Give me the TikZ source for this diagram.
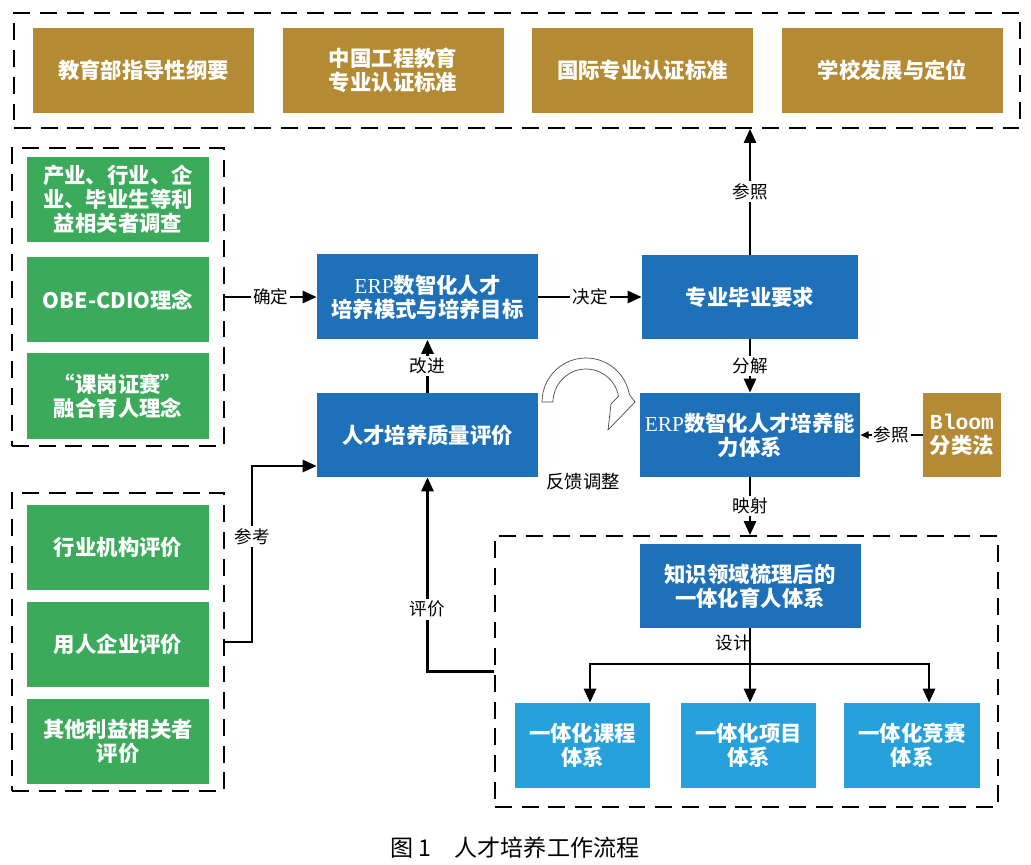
\documentclass[tikz,border=0pt]{standalone}
\usepackage{fontspec}
\setmainfont{Noto Sans CJK SC}
\newfontfamily\serifen{Liberation Serif}
\newfontfamily\monoen{Liberation Mono}
\usepackage{tikz}
\usetikzlibrary{arrows.meta}

\newcommand{\px}{0.025cm}
\definecolor{boxgold}{RGB}{180,139,52}
\definecolor{boxgreen}{RGB}{59,170,90}
\definecolor{boxblue}{RGB}{30,112,184}
\definecolor{boxcyan}{RGB}{38,161,220}

\begin{document}
\begin{tikzpicture}[x=\px,y=-\px,
        every node/.style={inner sep=0pt,align=center},
        wh/.style 2 args={minimum width=#1*\px,minimum height=#2*\px},
        box/.style={text=white,font=\fontsize{15.2}{17}\selectfont\bfseries},
        goldbox/.style={box,fill=boxgold,wh={221}{85}},
        greenbox/.style={box,fill=boxgreen,wh={182}{85}},
        bluebox/.style={box,fill=boxblue},
        cyanbox/.style={box,fill=boxcyan,wh={135}{85}},
        group/.style={draw,line width=1.2pt,dash pattern=on 12pt off 7pt},
        conn/.style={line width=2pt,-{Triangle[length=10pt,width=8.5pt]}},
        lbl/.style={fill=white,inner sep=1.5pt,font=\fontsize{12.5}{14}\selectfont}
        ]
        \useasboundingbox (0,0) rectangle (1031,865);
        % Groups
        \node[group,wh={1006}{115}] (top) at (517,70.5) {};
        \node[group,wh={212}{298}] (needs) at (118,297) {};
        \node[group,wh={212}{298}] (evals) at (118,642) {};
        \node[group,wh={503}{271}] (system) at (746.5,671.5) {};
        % Top
        \node[goldbox] (moe) at (143.5,70.5) {教育部指导性纲要};
        \node[goldbox] (cea) at (393,70.5) {中国工程教育\\专业认证标准};
        \node[goldbox] (intl) at (642.5,70.5) {国际专业认证标准};
        \node[goldbox] (school) at (892.5,70.5) {学校发展与定位};
        % Left
        \node[greenbox] (survey) at (118,199.5) {产业、行业、企\\业、毕业生等利\\益相关者调查};
        \node[greenbox] (obe) at (118,299.5) {OBE-CDIO理念};
        \node[greenbox] (ksz) at (118,396) {“课岗证赛”\\融合育人理念};
        \node[greenbox] (industry) at (118,547) {行业机构评价};
        \node[greenbox] (employer) at (118,644.5) {用人企业评价};
        \node[greenbox] (others) at (118,741) {其他利益相关者\\评价};
        % Middle
        \node[bluebox,wh={221}{85}] (erp) at (427.5,297) {{\serifen\mdseries ERP}数智化人才\\培养模式与培养目标};
        \node[bluebox,wh={221}{84}] (quality) at (427.5,435) {人才培养质量评价};
        \node[bluebox,wh={216}{84}] (grad) at (750,297) {专业毕业要求};
        \node[bluebox,wh={220}{84}] (ability) at (750,435) {{\serifen\mdseries ERP}数智化人才培养能\\力体系};
        \node[box,fill=boxgold,wh={78}{84}] (bloom) at (962,435) {{\monoen Bloom}\\分类法};
        % Bottom
        \node[bluebox,wh={221}{84}] (know) at (750,586) {知识领域梳理后的\\一体化育人体系};
        \node[cyanbox] (course) at (582.5,745.5) {一体化课程\\体系};
        \node[cyanbox] (project) at (748.5,745.5) {一体化项目\\体系};
        \node[cyanbox,wh={136}{85}] (contest) at (912,745.5) {一体化竞赛\\体系};

        \draw[conn] (needs) -- node[lbl] {确定} (erp);
        \draw[conn] (erp) -- node[lbl] {决定} (grad);
        \draw[conn] (quality) -- node[lbl] {改进} (erp);
        \draw[conn] (grad.north) -- node[lbl] {参照} (grad.north |- top.south);
        \draw[conn] (grad) -- node[lbl] {分解} (ability);
        \draw[line width=2pt,-{Triangle[length=6pt,width=5pt]}] (bloom) -- node[lbl] {参照} (ability);
        \draw[conn] (ability.south) -- node[lbl] {映射} (ability.south |- system.north);
        \draw[conn] (system.west) -| node[lbl,pos=0.66] {评价} (quality.south);
        \coordinate (bend) at (252,466);
        \draw[conn] (evals.east) -| node[lbl,pos=0.8] {参考} (bend) -- (bend -| quality.west);
        % Design branches
        \coordinate (split) at (750,664);
        \coordinate (lft) at (590,664);
        \coordinate (rgt) at (929,664);
        \draw[line width=2pt] (know.south) -- (split);
        \draw[conn] (split) -| (lft |- course.north);
        \draw[conn] (split) -- (split |- project.north);
        \draw[conn] (split) -| (rgt |- contest.north);
        \node[font=\fontsize{12.5}{14}\selectfont] (design) at (733,643) {设计};
        % Feedback
        \begin{scope}[shift={(586,402)},x=\px,y=\px]
            \draw[black!70,line width=0.5pt,fill=white] (-44,0) arc[start angle=180,end angle=10,radius=44]
                -- (49,0) -- (22,-28) -- (25,-2) -- (32.5,5.7) arc[start angle=10,end angle=180,radius=33] -- cycle;
        \end{scope}
        \node[font=\fontsize{13}{15}\selectfont] (feedback) at (583,482) {反馈调整};
        \node[font=\fontsize{16.4}{18}\selectfont] (caption) at (515,848) {图 1\quad 人才培养工作流程};
\end{tikzpicture}
\end{document}
